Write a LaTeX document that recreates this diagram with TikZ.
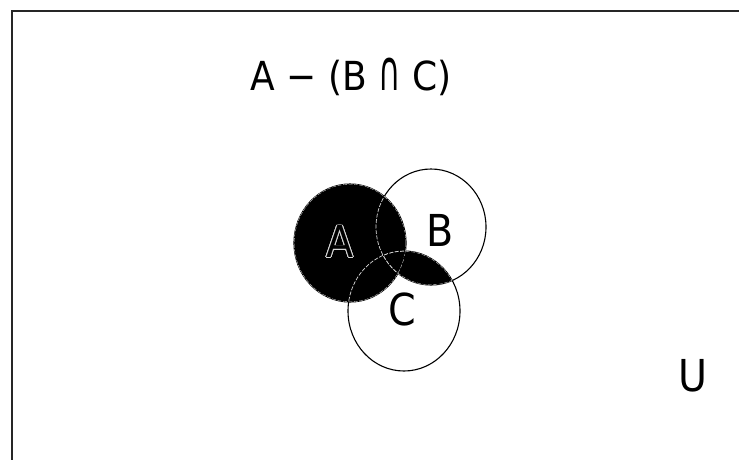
\documentclass[tikz,border=0pt]{standalone}
\usepackage{fontspec}
\setmainfont{DejaVu Sans}
\newfontfamily\condfont{DejaVu Sans Condensed}
\usepackage{contour}
\contourlength{0.6pt}
\begin{document}
\begin{tikzpicture}[x=1pt,y=-1pt,
  setcircle/.style={draw=black,line width=1.1pt},
  innerline/.style={draw=white!85!black,line width=0.7pt,dash pattern=on 4pt off 1.5pt},
  lbl/.style={font=\condfont\fontsize{44}{44}\selectfont,inner sep=0pt}]
\useasboundingbox (0,0) rectangle (739,459);
\begin{scope}
\clip (0,0) rectangle (739,459);
\draw[line width=1.6pt,draw=black!85] (12,470) -- (12,11) -- (750,11);
\end{scope}
% shaded regions
\fill[black] (350,243) circle[x radius=56,y radius=59];
\begin{scope}
\clip (431,227) circle[x radius=55,y radius=58];
\fill[black] (404,311) circle[x radius=56,y radius=60];
\end{scope}
% outlines
\draw[setcircle] (350,243) circle[x radius=56,y radius=59];
\draw[setcircle] (431,227) circle[x radius=55,y radius=58];
\draw[setcircle] (404,311) circle[x radius=56,y radius=60];
\begin{scope}
\clip (350,243) circle[x radius=56,y radius=59];
\draw[innerline] (350,243) circle[x radius=56,y radius=59];
\draw[innerline] (431,227) circle[x radius=55,y radius=58];
\draw[innerline] (404,311) circle[x radius=56,y radius=60];
\end{scope}
\begin{scope}
\clip (431,227) circle[x radius=55,y radius=58];
\clip (404,311) circle[x radius=56,y radius=60];
\draw[innerline] (431,227) circle[x radius=55,y radius=58];
\draw[innerline] (404,311) circle[x radius=56,y radius=60];
\end{scope}
% labels
\node[inner sep=0pt] (title) at (351,77) {\condfont\fontsize{40}{40}\selectfont A − (B \scalebox{0.85}[1.4]{∩} C)};
\node[lbl,text=black] (la) at (340,242) {\contour{white!85!black}{A}};
\node[lbl] (lb) at (440,230) {B};
\node[lbl] (lc) at (402,309) {C};
\node[lbl] (lu) at (693,376) {U};
\end{tikzpicture}
\end{document}
